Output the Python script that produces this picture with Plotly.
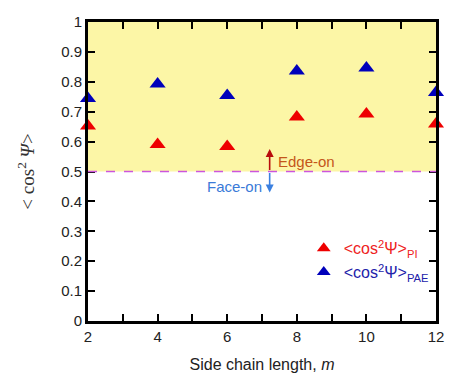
import plotly.graph_objects as go

m = [2, 4, 6, 8, 10, 12]
cos2_pi = [0.652, 0.590, 0.584, 0.682, 0.692, 0.659]
cos2_pae = [0.744, 0.793, 0.754, 0.836, 0.846, 0.764]
x_tick_vals = [2, 3, 4, 5, 6, 7, 8, 9, 10, 11, 12]
x_tick_text = ["2", "", "4", "", "6", "", "8", "", "10", "", "12"]
y_tick_vals = [0, 0.1, 0.2, 0.3, 0.4, 0.5, 0.6, 0.7, 0.8, 0.9, 1]
y_tick_text = ["0", "0.1", "0.2", "0.3", "0.4", "0.5", "0.6", "0.7", "0.8", "0.9", "1"]
threshold = 0.5
arrow_x = 7.22

RED = "#ee0000"
BLUE = "#0000bb"

fig = go.Figure()
fig.add_hrect(y0=threshold, y1=1, fillcolor="#fcf6a6", opacity=1, line_width=0, layer="below")

fig.add_trace(go.Scatter(x=m, y=cos2_pi, mode="markers", cliponaxis=False,
                         marker=dict(symbol="triangle-up", size=14, color=RED),
                         name="<span style='color:#ee2222'>&lt;cos<sup>2</sup>Ψ&gt;<sub>PI</sub></span>"))
fig.add_trace(go.Scatter(x=m, y=cos2_pae, mode="markers", cliponaxis=False,
                         marker=dict(symbol="triangle-up", size=14, color=BLUE),
                         name="<span style='color:#2222aa'>&lt;cos<sup>2</sup>Ψ&gt;<sub>PAE</sub></span>"))

fig.add_hline(y=threshold, line=dict(color="#cc55dd", width=1.5, dash="dash"), layer="above")

# arrows
fig.add_annotation(x=arrow_x, y=0.575, ax=arrow_x, ay=threshold, xref="x", yref="y", axref="x", ayref="y",
                   text="", showarrow=True, arrowhead=2, arrowsize=1, arrowwidth=1.6, arrowcolor="#b80c0c")
fig.add_annotation(x=arrow_x, y=0.43, ax=arrow_x, ay=threshold, xref="x", yref="y", axref="x", ayref="y",
                   text="", showarrow=True, arrowhead=2, arrowsize=1, arrowwidth=1.6, arrowcolor="#3a80e0")
fig.add_annotation(x=arrow_x + 0.18, y=0.535, xref="x", yref="y", text="Edge-on", showarrow=False,
                   xanchor="left", font=dict(family="Liberation Sans, Arial", size=15, color="#c4561a"))
fig.add_annotation(x=arrow_x - 0.15, y=0.45, xref="x", yref="y", text="Face-on", showarrow=False,
                   xanchor="right", font=dict(family="Liberation Sans, Arial", size=15, color="#3a7ad8"))

fig.update_xaxes(range=[2, 12], tickmode="array", tickvals=x_tick_vals, ticktext=x_tick_text,
                 showline=True, linecolor="black", linewidth=3, mirror="allticks",
                 ticks="inside", ticklen=7, tickwidth=2, tickcolor="black", showgrid=False,
                 tickfont=dict(family="Liberation Sans, Arial", size=15, color="#222"),
                 title=dict(text="Side chain length, <i>m</i>",
                            font=dict(family="Liberation Sans, Arial", size=16, color="#222")))
fig.update_yaxes(range=[0, 1], tickmode="array", tickvals=y_tick_vals, ticktext=y_tick_text,
                 showline=True, linecolor="black", linewidth=3, mirror="allticks",
                 ticks="inside", ticklen=7, tickwidth=2, tickcolor="black", showgrid=False,
                 tickfont=dict(family="Liberation Sans, Arial", size=15, color="#222"),
                 title=dict(text="&lt; cos<sup>2</sup> <i>Ψ</i>&gt;", standoff=22,
                            font=dict(family="Liberation Serif, Times New Roman", size=19, color="#333")))

fig.update_layout(width=452, height=379, margin=dict(l=88, r=8, t=22, b=52),
                  plot_bgcolor="white",
                  legend=dict(x=0.62, y=0.3, xanchor="left", yanchor="top", bgcolor="rgba(0,0,0,0)",
                              font=dict(family="Liberation Sans, Arial", size=16),
                              tracegroupgap=22, itemsizing="constant"),
                  showlegend=True)

fig.write_html("out.html")
